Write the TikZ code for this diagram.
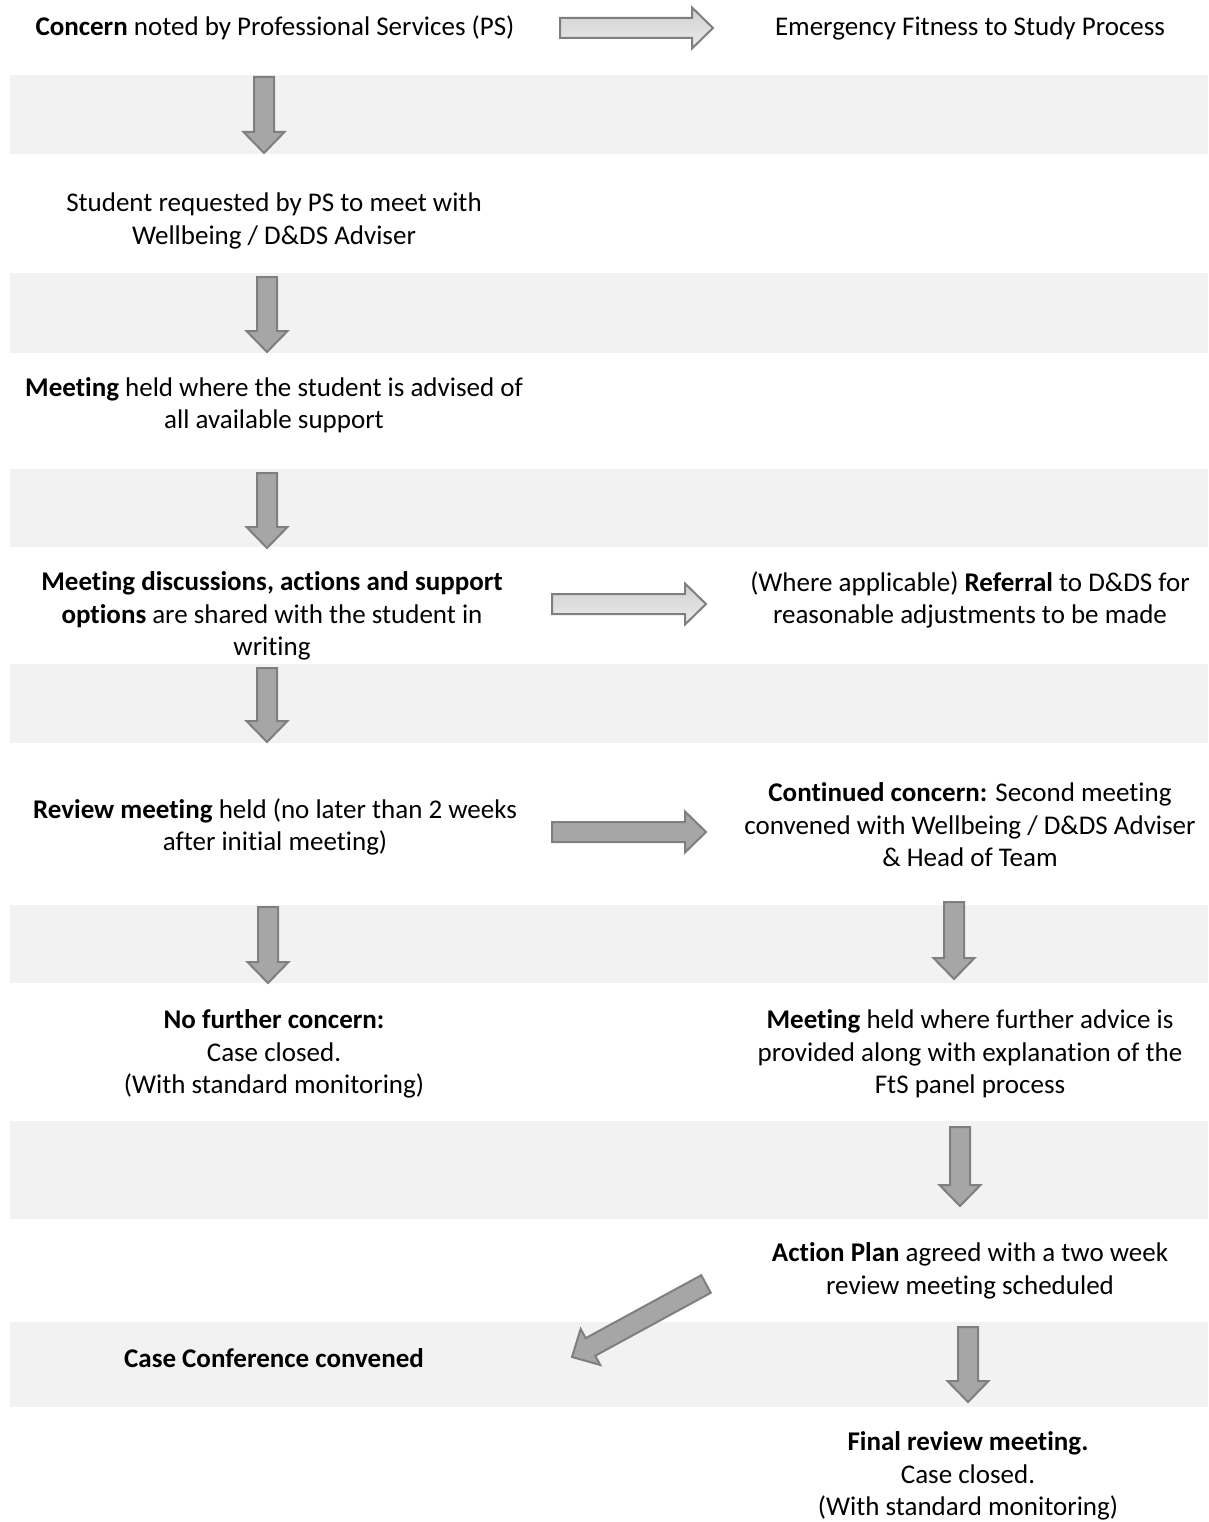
\documentclass[tikz,border=0pt]{standalone}
\usepackage{fontspec}
\setmainfont{Carlito}[Ligatures=NoCommon]
\usepackage{tikz}
\usetikzlibrary{calc}
\usetikzlibrary{shadings}
\definecolor{bandcolor}{RGB}{242, 242, 242}
\definecolor{arrowfill}{RGB}{166, 166, 166}
\definecolor{arrowline}{RGB}{127, 127, 127}
\definecolor{lighttop}{RGB}{208, 208, 208}
\definecolor{lightbottom}{RGB}{236, 236, 236}

\tikzset{
  band/.style={fill=bandcolor,
               draw=none},
  steptext/.style={align=center,
                   text=black,
                   inner sep=0pt,
                   font=\fontsize{27}{32.5}\selectfont},
  fatarrow/.style={draw=arrowline,
                   line width=2pt},
  darkarrow/.style={fatarrow,
                    fill=arrowfill},
  lightarrow/.style={fatarrow,
                     top color=lighttop,
                     bottom color=lightbottom}
}

\newcommand\blockarrow[3][darkarrow]{%
  \path let \p1=($(#3)-(#2)$) in
    \pgfextra{\pgfmathsetmacro\arrang{atan2(\y1,\x1)}%
              \pgfmathsetmacro\arrlen{veclen(\x1,\y1)}%
              \global\let\arrang\arrang
              \global\let\arrlen\arrlen};
  \begin{scope}[shift={(#2)}, rotate=\arrang]
    \draw[#1] (0,-10) -- (\arrlen-21,-10) -- (\arrlen-21,-20.5) -- (\arrlen,0)
      -- (\arrlen-21,20.5) -- (\arrlen-21,10) -- (0,10) -- cycle;
  \end{scope}}

\begin{document}
\begin{tikzpicture}[x=1pt, y=1pt]
    \useasboundingbox (0,0) rectangle (1208,-1522);

    \foreach \ya/\yb in {75/154, 273/353, 469/547, 664/743, 905/983, 1121/1219, 1322/1407}
        \fill[band] (10,-\ya) rectangle (1208,-\yb);

    \node[steptext] (concern) at (275,-28) {\textbf{Concern} noted by Professional Services (PS)};
    \node[steptext] (emergency) at (970,-28) {Emergency Fitness to Study Process};
    \node[steptext] (request) at (274,-221) {Student requested by PS to meet with\\Wellbeing / D\&DS Adviser};
    \node[steptext] (meeting) at (274,-405) {\textbf{Meeting} held where the student is advised of\\all available support};
    \node[steptext] (shared) at (272,-616) {\textbf{Meeting discussions, actions and support}\\\textbf{options} are shared with the student in\\writing};
    \node[steptext] (referral) at (970,-600) {(Where applicable) \textbf{Referral} to D\&DS for\\reasonable adjustments to be made};
    \node[steptext] (review) at (275,-827) {\textbf{Review meeting} held (no later than 2 weeks\\after initial meeting)};
    \node[steptext] (continued) at (970,-825) {\textbf{Continued concern:} Second meeting\\convened with Wellbeing / D\&DS Adviser\\\& Head of Team};
    \node[steptext] (nofurther) at (274,-1054) {\textbf{No further concern:}\\Case closed.\\(With standard monitoring)};
    \node[steptext] (advice) at (970,-1054) {\textbf{Meeting} held where further advice is\\provided along with explanation of the\\FtS panel process};
    \node[steptext] (plan) at (970,-1271) {\textbf{Action Plan} agreed with a two week\\review meeting scheduled};
    \node[steptext] (conference) at (274,-1358) {\textbf{Case Conference convened}};
    \node[steptext] (final) at (968,-1476) {\textbf{Final review meeting.}\\Case closed.\\(With standard monitoring)};

    \foreach \k/\x/\ya/\yb in {1/264/77/153, 2/267/277/352, 3/267/473/548, 4/267/668/742, 5/268/907/983,
                               6/954/902/979, 7/960/1127/1206, 8/968/1327/1402}
    {
        \coordinate (down\k top) at (\x,-\ya);
        \coordinate (down\k tip) at (\x,-\yb);
        \blockarrow{down\k top}{down\k tip}
    }

    \coordinate (emergencytail) at (560,-28);
    \coordinate (emergencytip) at (713,-28);
    \coordinate (referraltail) at (552,-604);
    \coordinate (referraltip) at (706,-604);
    \coordinate (continuedtail) at (552,-832);
    \coordinate (continuedtip) at (706,-832);
    \coordinate (conferencetail) at (706,-1284);
    \coordinate (conferencetip) at (572,-1357);
    \blockarrow[lightarrow]{emergencytail}{emergencytip}
    \blockarrow[lightarrow]{referraltail}{referraltip}
    \blockarrow{continuedtail}{continuedtip}
    \blockarrow{conferencetail}{conferencetip}
\end{tikzpicture}
\end{document}
